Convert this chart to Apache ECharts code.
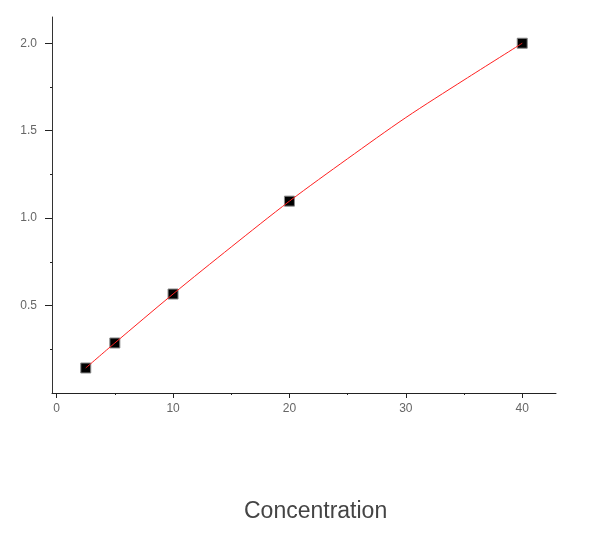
<!DOCTYPE html>
<html>
<head>
<meta charset="utf-8">
<script src="https://cdn.jsdelivr.net/npm/echarts@6/dist/echarts.min.js"></script>
<style>html,body{margin:0;padding:0;background:#fff}#c{width:600px;height:533px}</style>
</head>
<body>
<div id="c"></div>
<script>
// measured points
var concentration = [2.5, 5, 10, 20, 40];
var response = [0.143, 0.286, 0.566, 1.097, 2.0];
// fitted curve, values
var fitX = [2.5, 5, 10, 15, 20, 25, 30, 35, 40];
var fitY = [0.143, 0.286, 0.566, 0.835, 1.097, 1.34, 1.575, 1.79, 2.0];
var xMajorTicks = [0, 10, 20, 30, 40];
var xMinorTicks = [5, 15, 25, 35];
var yMajorTicks = [0.5, 1.0, 1.5, 2.0];
var yMinorTicks = [0.25, 0.75, 1.25, 1.75];
var xTitle = 'Concentration';

var points = concentration.map(function (c, i) { return [c, response[i]]; });
var fitPoints = fitX.map(function (c, i) { return [c, fitY[i]]; });
var labelColor = '#666';
var font = 'Liberation Sans, Arial, sans-serif';

var chart = echarts.init(document.getElementById('c'), null, {renderer: 'canvas'});
chart.setOption({
  animation: false,
  backgroundColor: '#fff',
  grid: {left: 52, top: 17, right: 44, bottom: 140, containLabel: false},
  title: {
    text: xTitle, left: 239, top: 495,
    textStyle: {fontFamily: font, fontSize: 23, fontWeight: 'normal', color: '#444'}
  },
  xAxis: [{
    type: 'value', min: -0.4, max: 42.9,
    axisLine: {show: true, onZero: false, lineStyle: {color: '#222', width: 1}},
    axisTick: {show: true, customValues: xMajorTicks, length: 5, inside: false, lineStyle: {color: '#222'}},
    axisLabel: {show: true, customValues: xMajorTicks, margin: 10, color: labelColor, fontFamily: font, fontSize: 12},
    splitLine: {show: false}
  }, {
    type: 'value', min: -0.4, max: 42.9, position: 'bottom',
    axisLine: {show: false, onZero: false},
    axisTick: {show: true, customValues: xMinorTicks, length: 2, lineStyle: {color: '#222'}},
    axisLabel: {show: false},
    splitLine: {show: false}
  }],
  yAxis: [{
    type: 'value', min: 0, max: 2.15,
    axisLine: {show: true, onZero: false, lineStyle: {color: '#333', width: 1}},
    axisTick: {show: true, customValues: yMajorTicks, length: 7, lineStyle: {color: '#222'}},
    axisLabel: {show: true, customValues: yMajorTicks, margin: 15, color: labelColor, fontFamily: font, fontSize: 12,
      formatter: function (v) { return v.toFixed(1); }},
    splitLine: {show: false}
  }, {
    type: 'value', min: 0, max: 2.15, position: 'left',
    axisLine: {show: false, onZero: false},
    axisTick: {show: true, customValues: yMinorTicks, length: 2, lineStyle: {color: '#222'}},
    axisLabel: {show: false},
    splitLine: {show: false}
  }],
  series: [{
    type: 'scatter', data: points, xAxisIndex: 0, yAxisIndex: 0,
    symbol: 'rect', symbolSize: 10,
    itemStyle: {color: '#000', opacity: 1, borderColor: '#888', borderWidth: 1}, z: 2
  }, {
    type: 'line', data: fitPoints, xAxisIndex: 0, yAxisIndex: 0,
    smooth: 0.3, showSymbol: false, symbol: 'none',
    lineStyle: {color: '#ff2020', width: 1}, z: 3
  }]
});
</script>
</body>
</html>
